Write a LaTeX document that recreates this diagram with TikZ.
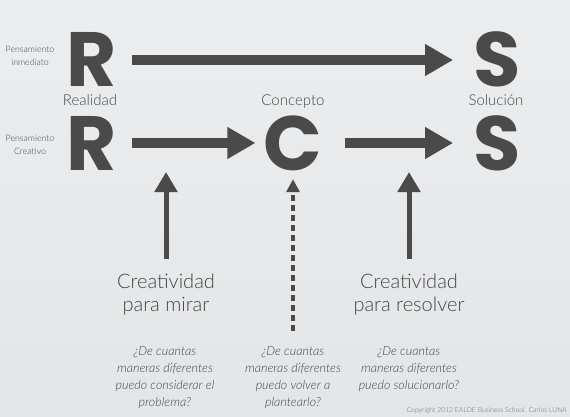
\documentclass[tikz,border=0pt]{standalone}
\usepackage{fontspec}
\setmainfont{Lato}[UprightFont=* Light, ItalicFont=* Light Italic]
\newfontfamily\bigf{Poppins}
\usetikzlibrary{arrows.meta}
\definecolor{ink}{HTML}{4A4A4A}
\definecolor{txt}{HTML}{454545}
\definecolor{bgtop}{HTML}{EBEDEF}
\definecolor{bgbot}{HTML}{E3E5E7}
\tikzset{
  bigletter/.style={font=\bigf\bfseries\fontsize{77}{77}\selectfont, text=ink, inner sep=0pt, text height=54pt, text depth=0pt},
  label/.style={font=\fontsize{15}{18}\selectfont, text=txt, inner sep=0pt, text height=11pt, text depth=3pt},
  side/.style={font=\fontsize{8.8}{13.5}\selectfont, text=txt, align=center, inner sep=0pt},
  crea/.style={font=\fontsize{20}{23}\selectfont, text=txt, align=center, inner sep=0pt},
  quest/.style={font=\itshape\fontsize{12.5}{17}\selectfont, text=txt, align=center, inner sep=0pt},
  bigarrow/.style={ink, line width=10pt, -{Triangle[length=28pt, width=30pt]}},
  uparrow/.style={ink, line width=5pt, -{Triangle[length=20pt, width=22pt]}},
  dasharrow/.style={ink, line width=3.5pt, dash pattern=on 6pt off 4pt, -{Triangle[length=13pt, width=13pt]}},
}
\begin{document}
\begin{tikzpicture}[x=1pt,y=-1pt]
\shade[top color=bgtop, bottom color=bgbot] (0,0) rectangle (570,417);
\useasboundingbox (0,0) rectangle (570,417);

\node[bigletter] (R1) at (92,60) {R};
\node[bigletter] (S1) at (497,60) {S};
\node[bigletter] (R2) at (92,143) {R};
\node[bigletter] (C) at (293,143) {C};
\node[bigletter] (S2) at (497,143) {S};

\node[label] (real) at (90,101.5) {Realidad};
\node[label] (conc) at (293,101.5) {Concepto};
\node[label] (sol) at (496,101.5) {Solución};

\node[side] (pi) at (30,56) {Pensamiento\\inmediato};
\node[side] (pc) at (30,145) {Pensamiento\\Creativo};

\draw[bigarrow, shorten <=15pt, shorten >=20pt] (R1.east) -- (S1.west);
\draw[bigarrow, shorten <=15pt, shorten >=8pt] (R2.east) -- (C.west);
\draw[bigarrow, shorten <=22pt, shorten >=20pt] (C.east) -- (S2.west);

\node[crea] (cm) at (166,294) {Creatividad\\para mirar};
\node[crea] (cr) at (409,294) {Creatividad\\para resolver};

\coordinate (t1) at (166,172);
\coordinate (t3) at (409,172);
\draw[uparrow, shorten <=14pt] (cm.north) -- (t1);
\draw[uparrow, shorten <=14pt] (cr.north) -- (t3);

\node[quest] (q1) at (165,377.5) {¿De cuantas\\maneras diferentes\\puedo considerar el\\problema?};
\node[quest] (q2) at (293,377.5) {¿De cuantas\\maneras diferentes\\puedo volver a\\plantearlo?};
\node[quest] (q3) at (409,369) {¿De cuantas\\maneras diferentes\\puedo solucionarlo?};

\draw[dasharrow, shorten <=15pt, shorten >=9pt] (q2.north) -- (C.south);

\node[font=\fontsize{6.8}{7}\selectfont, text=txt!80, anchor=east, inner sep=0pt] (copy) at (567,411) {Copyright 2012 EALDE Business School. Carlos LUNA};
\end{tikzpicture}
\end{document}
